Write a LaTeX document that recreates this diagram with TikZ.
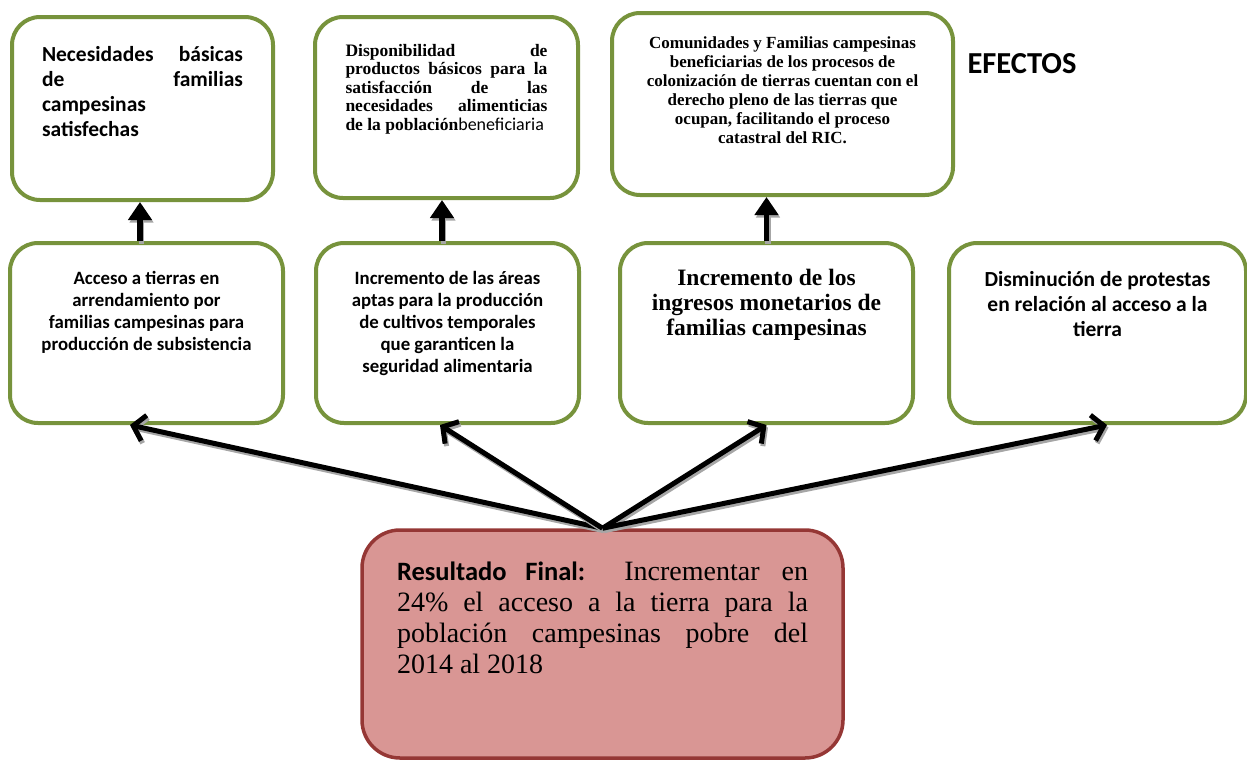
\documentclass[tikz,border=0pt]{standalone}
\usepackage{fontspec}
\setmainfont{Liberation Serif}
\newfontfamily\calibri{Carlito}
\usetikzlibrary{arrows.meta, positioning, calc}
\definecolor{effgreen}{RGB}{119,147,60}
\definecolor{resfill}{RGB}{217,150,148}
\definecolor{resline}{RGB}{149,55,53}
% top aligned text block: height, width, contents
\newcommand{\boxtext}[3]{\parbox[c][#1][t]{#2}{\tolerance=10000\hyphenpenalty=10000 #3}}

\begin{document}
\begin{tikzpicture}[
    x=1pt, y=-1pt,
    effect/.style={draw=effgreen, line width=4pt, rounded corners=28pt, fill=white, inner sep=0pt},
    result/.style={draw=resline, line width=3.5pt, rounded corners=38pt, fill=resfill, inner sep=0pt},
    uparrow/.style={line width=5.5pt, -{Triangle[length=18pt,width=23pt]}},
    fanarrow/.style={line width=5pt, -{Straight Barb[length=11pt,width=26pt]}},
    shade/.style={draw=black!35, transform canvas={shift={(1.5pt,-2.5pt)}}}
]
    \useasboundingbox (0,0) rectangle (1247,761);

    % efectos
    \node[effect, minimum width=261pt, minimum height=183pt] (nec) at (142.5,108.5)
        {\boxtext{183pt}{201pt}{\calibri\bfseries\fontsize{21.5}{25}\selectfont\vspace*{26.5pt}\strut
        Necesidades\hfill básicas\\ de\hfill familias\\ campesinas\\ satisfechas}};
    \node[effect, minimum width=263pt, minimum height=181pt] (disp) at (446.5,107.5)
        {\boxtext{181pt}{202pt}{\bfseries\fontsize{17.5}{18.5}\selectfont\vspace*{26.5pt}\strut
        Disponibilidad de\linebreak productos básicos para la\linebreak satisfacción de las\linebreak
        necesidades alimenticias\linebreak de la población{\calibri\mdseries\fontsize{18}{18.5}\selectfont beneficiaria}}};
    \node[effect, minimum width=341pt, minimum height=182pt] (com) at (782.5,104)
        {\boxtext{182pt}{300pt}{\centering\bfseries\fontsize{17}{19}\selectfont\vspace*{22.5pt}\strut
        Comunidades y Familias campesinas\\ beneficiarias de los procesos de\\
        colonización de tierras cuentan con el\\ derecho pleno de las tierras que\\
        ocupan, facilitando el proceso\\ catastral del RIC.}};
    \node[font=\calibri\bfseries\fontsize{30.5}{34}\selectfont] (efectos) at (1022,64) {EFECTOS};

    % resultados intermedios
    \node[effect, minimum width=273pt, minimum height=180pt] (acc) at (146.5,333)
        {\boxtext{180pt}{240pt}{\centering\calibri\bfseries\fontsize{18.8}{22}\selectfont\vspace*{26.5pt}\strut
        Acceso a tierras en\\ arrendamiento por\\ familias campesinas para\\ producción de subsistencia}};
    \node[effect, minimum width=263pt, minimum height=180pt] (areas) at (447.5,333)
        {\boxtext{180pt}{230pt}{\centering\calibri\bfseries\fontsize{18.8}{22}\selectfont\vspace*{26.5pt}\strut
        Incremento de las áreas\\ aptas para la producción\\ de cultivos temporales\\
        que garanticen la\\ seguridad alimentaria}};
    \node[effect, minimum width=293pt, minimum height=180pt] (ingr) at (766.5,333)
        {\boxtext{180pt}{270pt}{\centering\bfseries\fontsize{23.5}{25}\selectfont\vspace*{24.5pt}\strut
        Incremento de los\\ ingresos monetarios de\\ familias campesinas}};
    \node[effect, minimum width=297pt, minimum height=180pt] (dism) at (1097.5,333)
        {\boxtext{180pt}{270pt}{\centering\calibri\bfseries\fontsize{21.5}{25}\selectfont\vspace*{26pt}\strut
        Disminución de protestas\\ en relación al acceso a la\\ tierra}};

    % resultado final
    \node[result, minimum width=481pt, minimum height=228pt] (res) at (602.5,644)
        {\boxtext{228pt}{411pt}{\fontsize{28}{31}\selectfont\vspace*{28.5pt}\strut
        {\calibri\bfseries\fontsize{26.5}{31}\selectfont Resultado Final:} Incrementar en\linebreak
        24\% el acceso a la tierra para la\linebreak
        población campesinas pobre del\linebreak 2014 al 2018}};

    % causas -> efectos
    \foreach \low/\up/\dx in {acc/nec/-6.5, areas/disp/-5.5, ingr/com/0} {
        \draw[uparrow, shade] ([xshift=\dx pt]\low.north) -- ([xshift=\dx pt]\low.north |- \up.south);
        \draw[uparrow] ([xshift=\dx pt]\low.north) -- ([xshift=\dx pt]\low.north |- \up.south);
    }

    % resultado final -> causas
    \foreach \tgt/\dx in {acc/-16.5, areas/-7.5, ingr/0, dism/9.5} {
        \draw[fanarrow, shade] (res.north) -- ([xshift=\dx pt]\tgt.south);
        \draw[fanarrow] (res.north) -- ([xshift=\dx pt]\tgt.south);
    }
\end{tikzpicture}
\end{document}
